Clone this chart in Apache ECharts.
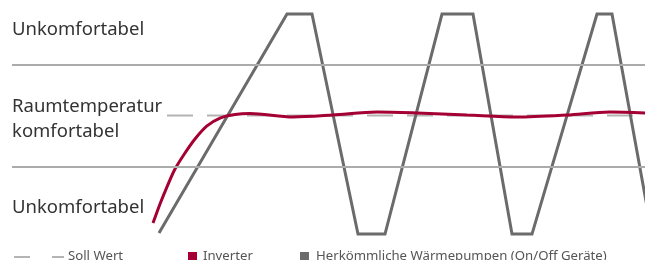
<!DOCTYPE html>
<html><head><meta charset="utf-8">
<script src="https://cdn.jsdelivr.net/npm/echarts@6/dist/echarts.min.js"></script>
<style>html,body{margin:0;padding:0;background:#fff}#c{width:645px;height:260px}</style>
</head><body><div id="c"></div>
<script>
// x: time units, y: room temperature (°C)
const onOffTime = [147, 275, 300, 346, 373, 430, 461, 500, 520, 585, 600, 640];
const onOffTemp = [16.39, 24.98, 24.98, 16.35, 16.35, 24.98, 24.98, 16.35, 16.35, 24.98, 24.98, 16.35];
const inverterTime = [141, 148, 155, 163, 173, 183, 195, 208, 223, 238, 281, 321, 365, 405, 455, 505, 555, 598, 633];
const inverterTemp = [16.78, 17.53, 18.2, 18.9, 19.53, 20.08, 20.59, 20.9, 21.04, 21.08, 20.94, 21.02, 21.14, 21.1, 21.02, 20.94, 21.02, 21.14, 21.1];
const targetTime = [155, 633];
const targetTemp = [21, 21];
const comfortBounds = [19, 23];
const zoneLabels = ['Unkomfortabel', 'Raumtemperatur', 'komfortabel', 'Unkomfortabel'];
const legendNames = ['Soll Wert', 'Inverter', 'Herkömmliche Wärmepumpen (On/Off Geräte)'];

const zip = (a, b) => a.map((v, i) => [v, b[i]]);
const chart = echarts.init(document.getElementById('c'));
const FONT = 'Noto Sans';
const LF = '18.5px ' + FONT, GF = '13.2px ' + FONT;
chart.setOption({
  animation: false,
  grid: { left: 12, right: 0, top: 0.75, height: 242.25 },
  xAxis: { type: 'value', min: 0, max: 633, show: false },
  yAxis: { type: 'value', min: 16, max: 25.5, show: false, splitLine: { show: false } },
  series: [
    { name: legendNames[0], type: 'line', data: zip(targetTime, targetTemp), symbol: 'none',
      lineStyle: { color: '#b4b4b4', width: 2, type: [26, 14] }, z: 1,
      markLine: { silent: true, symbol: 'none', label: { show: false },
        lineStyle: { color: '#ababab', width: 2, type: 'solid' },
        data: comfortBounds.map(v => ({ yAxis: v })) } },
    { name: legendNames[2], type: 'line', data: zip(onOffTime, onOffTemp), symbol: 'none',
      lineStyle: { color: '#6b6b6b', width: 3, join: 'miter' }, z: 2 },
    { name: legendNames[1], type: 'line', data: zip(inverterTime, inverterTemp), symbol: 'none',
      smooth: 0.3,
      lineStyle: { color: '#a50034', width: 3 }, z: 3 }
  ],
  graphic: [
    { type: 'text', left: 12, top: 20, style: { text: zoneLabels[0], font: LF, fill: '#333' } },
    { type: 'text', left: 12, top: 97, style: { text: zoneLabels[1], font: LF, fill: '#333' } },
    { type: 'text', left: 12, top: 122, style: { text: zoneLabels[2], font: LF, fill: '#333' } },
    { type: 'text', left: 12, top: 198, style: { text: zoneLabels[3], font: LF, fill: '#333' } },
    { type: 'line', shape: { x1: 14, y1: 257, x2: 30, y2: 257 }, style: { stroke: '#b4b4b4', lineWidth: 2 } },
    { type: 'line', shape: { x1: 52, y1: 257, x2: 64, y2: 257 }, style: { stroke: '#b4b4b4', lineWidth: 2 } },
    { type: 'text', left: 68, top: 250, style: { text: legendNames[0], font: GF, fill: '#555' } },
    { type: 'rect', shape: { x: 188, y: 252, width: 9, height: 9 }, style: { fill: '#a50034' } },
    { type: 'text', left: 203, top: 250, style: { text: legendNames[1], font: GF, fill: '#555' } },
    { type: 'rect', shape: { x: 300, y: 252, width: 9, height: 9 }, style: { fill: '#6b6b6b' } },
    { type: 'text', left: 316, top: 250, style: { text: legendNames[2], font: GF, fill: '#555' } }
  ]
});
</script></body></html>
